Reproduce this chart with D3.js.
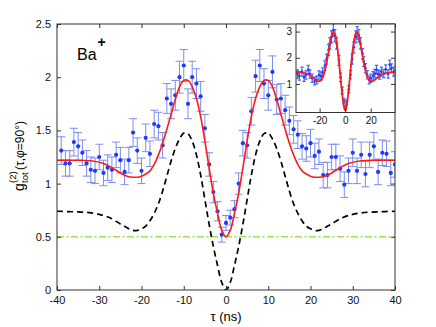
<!DOCTYPE html>
<html>
<head>
<meta charset="utf-8">
<script src="https://cdn.jsdelivr.net/npm/d3@7"></script>
<style>
  body { margin: 0; background: #fff; }
  svg { display: block; font-family: "Liberation Sans", Arial, sans-serif; }
</style>
</head>
<body>
<script>
"use strict";

var width = 436;
var height = 327;

// main data (tau in ns, g2 values, error bars)
var mainTau = [-39,-38,-37,-36,-35,-34,-33,-32,-31,-30,-29,-28,-27,-26,-25,-24,-23,-22,-21,-20,
  -19,-18,-17,-16,-15,-14,-13,-12,-11,-10,-9,-8,-7,-6,-5,-4,-3,-2,-1,0,
  1,2,3,4,5,6,7,8,9,10,11,12,13,14,15,16,17,18,19,20,
  21,22,23,24,25,26,27,28,29,30,31,32,33,34,35,36,37,38,39,40];
var mainG = [1.31,1.19,1.19,1.39,1.35,1.29,1.19,1.13,1.12,1.25,1.10,1.15,1.13,1.27,1.22,1.11,1.22,1.48,1.31,1.12,
  1.43,1.28,1.56,1.54,1.36,1.80,1.75,1.83,2.00,2.11,1.75,2.00,1.94,1.82,1.52,1.18,0.92,0.74,0.52,0.63,
  0.68,0.76,1.00,1.38,1.36,1.68,2.01,2.11,1.94,1.83,2.05,1.79,1.80,1.69,1.59,1.51,1.46,1.35,1.33,1.38,
  1.26,1.30,1.08,1.08,1.25,1.25,1.14,0.99,1.12,1.29,1.12,1.27,1.09,1.27,1.35,1.11,1.29,1.28,1.10,1.18];
var mainErr = [0.13,0.12,0.12,0.13,0.13,0.12,0.12,0.12,0.12,0.12,0.12,0.12,0.12,0.12,0.12,0.12,0.12,0.13,0.12,0.12,
  0.13,0.12,0.13,0.13,0.12,0.14,0.14,0.14,0.15,0.15,0.14,0.15,0.14,0.14,0.13,0.11,0.10,0.09,0.07,0.07,
  0.07,0.08,0.10,0.12,0.12,0.13,0.15,0.15,0.14,0.14,0.15,0.14,0.14,0.14,0.13,0.13,0.13,0.12,0.12,0.13,
  0.12,0.12,0.12,0.12,0.12,0.12,0.12,0.12,0.12,0.13,0.12,0.12,0.12,0.12,0.13,0.12,0.12,0.12,0.12,0.12];

// fitted curves, main panel
var fitTau = [-40,-36,-32,-29,-27,-25,-24,-23,-22,-21,-20,-19,-18,-17,-16,-15,-14,-13,-12,-11,-10,-9,-8,-7,-6,-5,-4,-3,-2,-1,0,
  1,2,3,4,5,6,7,8,9,10,11,12,13,14,15,16,17,18,19,20,21,22,23,24,25,27,29,32,36,40];
var fitRed = [1.22,1.22,1.215,1.19,1.15,1.10,1.08,1.065,1.06,1.06,1.07,1.09,1.12,1.18,1.27,1.38,1.51,1.65,1.79,1.91,1.97,1.97,1.91,1.80,1.63,1.40,1.15,0.91,0.72,0.56,0.50,
  0.56,0.72,0.91,1.15,1.40,1.63,1.80,1.91,1.97,1.97,1.91,1.79,1.65,1.51,1.38,1.27,1.18,1.12,1.09,1.07,1.06,1.06,1.065,1.08,1.10,1.15,1.19,1.215,1.22,1.22];
var fitBlack = [0.74,0.735,0.725,0.70,0.67,0.62,0.60,0.575,0.56,0.56,0.575,0.60,0.65,0.72,0.81,0.93,1.07,1.21,1.33,1.42,1.475,1.47,1.40,1.27,1.08,0.85,0.62,0.41,0.23,0.07,0.0,
  0.07,0.23,0.41,0.62,0.85,1.08,1.27,1.40,1.47,1.475,1.42,1.33,1.21,1.07,0.93,0.81,0.72,0.65,0.60,0.575,0.56,0.56,0.575,0.60,0.62,0.67,0.70,0.725,0.735,0.74];
var refLevel = 0.5;

// inset data
var insetTau = [-37.4,-35.9,-33.8,-32.2,-30.7,-28.9,-27.6,-25.8,-23.9,-22.3,-20.5,-19.0,-17.7,-15.9,-14.6,-13.0,-12.0,-10.7,-9.3,-8.0,
  -6.7,-4.9,-3.6,-2.3,-1.0,0.4,1.1,2.9,4.2,5.5,6.8,8.4,9.4,10.7,12.0,13.6,14.6,15.9,17.2,18.8,
  20.1,21.9,23.2,24.5,25.8,27.1,28.4,30.2,31.8,33.6,34.9,36.2,38.0];
var insetG = [1.38,1.31,1.47,1.26,1.34,1.54,1.38,1.22,1.11,1.15,1.34,1.30,1.45,1.70,1.95,2.30,2.55,2.80,3.05,2.85,
  2.55,1.90,1.25,0.75,0.35,0.10,0.30,0.80,1.35,1.95,2.40,2.80,2.95,2.85,2.55,2.15,1.85,1.60,1.35,1.15,
  1.22,1.31,1.40,1.54,1.38,1.34,1.47,1.40,1.56,1.38,1.73,1.60,1.47];
var insetErr = [0.16,0.16,0.17,0.16,0.16,0.17,0.16,0.16,0.15,0.15,0.16,0.16,0.17,0.18,0.19,0.21,0.22,0.23,0.24,0.23,
  0.22,0.19,0.16,0.13,0.10,0.07,0.09,0.13,0.16,0.19,0.21,0.23,0.24,0.23,0.22,0.20,0.19,0.18,0.16,0.15,
  0.16,0.16,0.16,0.17,0.16,0.16,0.17,0.16,0.17,0.16,0.18,0.17,0.17];
var insetFitTau = [-39,-35,-31,-28,-26,-24,-23,-22,-21,-20,-19,-18,-17,-16,-15,-14,-13,-12,-11,-10,-9,-8,-7,-6,-5,-4,-3,-2,-1,0,
  1,2,3,4,5,6,7,8,9,10,11,12,13,14,15,16,17,18,19,20,21,22,23,24,26,28,31,35,39];
var insetFitRed = [1.45,1.44,1.40,1.34,1.27,1.19,1.15,1.12,1.10,1.11,1.14,1.21,1.32,1.48,1.70,1.95,2.22,2.50,2.75,2.92,2.97,2.90,2.68,2.35,1.92,1.42,0.92,0.47,0.13,0.0,
  0.13,0.47,0.92,1.42,1.92,2.35,2.68,2.90,2.97,2.92,2.75,2.50,2.22,1.95,1.70,1.48,1.32,1.21,1.14,1.11,1.10,1.12,1.15,1.19,1.27,1.34,1.40,1.44,1.45];

// tick labels
var mainXTicks = [-40,-30,-20,-10,0,10,20,30,40];
var mainYTicks = [0,0.5,1,1.5,2,2.5];
var insetXTicks = [-20,0,20];
var insetYTicks = [1,2,3];

var svg = d3.select("body").append("svg").attr("width", width).attr("height", height);

function boxAxes(g, xs, ys, xt, yt, fontSize, padX, padY) {
  var r = xs.range(), h = ys.range();
  var fmt = function (d) { return String(d); };
  g.append("g").attr("transform", "translate(0," + h[0] + ")")
    .call(d3.axisBottom(xs).tickValues(xt).tickSizeInner(-4).tickSizeOuter(0).tickPadding(padX).tickFormat(fmt));
  g.append("g").attr("transform", "translate(0," + h[1] + ")")
    .call(d3.axisTop(xs).tickValues(xt).tickSizeInner(-4).tickSizeOuter(0).tickFormat(""));
  g.append("g").attr("transform", "translate(" + r[0] + ",0)")
    .call(d3.axisLeft(ys).tickValues(yt).tickSizeInner(-4).tickSizeOuter(0).tickPadding(padY).tickFormat(fmt));
  g.append("g").attr("transform", "translate(" + r[1] + ",0)")
    .call(d3.axisRight(ys).tickValues(yt).tickSizeInner(-4).tickSizeOuter(0).tickFormat(""));
  g.selectAll(".domain").remove();
  g.selectAll(".tick line").attr("stroke", "#333");
  g.selectAll(".tick text").attr("fill", "#111").style("font-size", fontSize + "px")
    .style("font-family", "'Liberation Sans', Arial, sans-serif");
  g.append("rect").attr("x", r[0]).attr("y", h[1]).attr("width", r[1] - r[0]).attr("height", h[0] - h[1])
    .attr("fill", "none").attr("stroke", "#333").attr("stroke-width", 1);
}

function drawErrorBars(g, xs, ys, tau, vals, errs, cap, r, color, sw) {
  var pts = tau.map(function (t, i) { return { t: t, v: vals[i], e: errs[i] }; });
  var bars = g.append("g").attr("stroke", color).attr("stroke-width", sw);
  bars.selectAll("line.v").data(pts).enter().append("line")
    .attr("x1", function (d) { return xs(d.t); }).attr("x2", function (d) { return xs(d.t); })
    .attr("y1", function (d) { return ys(d.v - d.e); }).attr("y2", function (d) { return ys(d.v + d.e); });
  [-1, 1].forEach(function (s) {
    bars.selectAll("line.c" + s).data(pts).enter().append("line")
      .attr("x1", function (d) { return xs(d.t) - cap; }).attr("x2", function (d) { return xs(d.t) + cap; })
      .attr("y1", function (d) { return ys(d.v + s * d.e); }).attr("y2", function (d) { return ys(d.v + s * d.e); });
  });
  g.append("g").selectAll("circle").data(pts).enter().append("circle")
    .attr("cx", function (d) { return xs(d.t); }).attr("cy", function (d) { return ys(d.v); })
    .attr("r", r).attr("fill", "#1e3cf5");
}

// ---- main panel ----
var x = d3.scaleLinear().domain([-40, 40]).range([57, 395]);
var y = d3.scaleLinear().domain([0, 2.5]).range([290, 24]);

svg.append("clipPath").attr("id", "mainClip").append("rect")
  .attr("x", 57).attr("y", 24).attr("width", 338).attr("height", 266);

var plot = svg.append("g").attr("clip-path", "url(#mainClip)");

plot.append("line").attr("x1", x(-40)).attr("x2", x(40)).attr("y1", y(refLevel)).attr("y2", y(refLevel))
  .attr("stroke", "#9be64f").attr("stroke-width", 1.5).attr("stroke-dasharray", "7,2.5,2,2.5");

var line = d3.line().x(function (d) { return x(d[0]); }).y(function (d) { return y(d[1]); }).curve(d3.curveCatmullRom.alpha(0.5));

plot.append("path").datum(fitTau.map(function (t, i) { return [t, fitBlack[i]]; }))
  .attr("d", line).attr("fill", "none").attr("stroke", "#000").attr("stroke-width", 1.7).attr("stroke-dasharray", "6,4");

drawErrorBars(plot, x, y, mainTau, mainG, mainErr, 4, 2.1, "#7d8cf2", 1);

plot.append("path").datum(fitTau.map(function (t, i) { return [t, fitRed[i]]; }))
  .attr("d", line).attr("fill", "none").attr("stroke", "#ff1a1a").attr("stroke-width", 1.6);

boxAxes(svg.append("g"), x, y, mainXTicks, mainYTicks, 11, 6, 6);

// Ba+ label
var ba = svg.append("text").attr("x", 77).attr("y", 60).attr("fill", "#000").style("font-size", "16px");
ba.append("tspan").text("Ba");
ba.append("tspan").attr("dy", -13).attr("dx", 1).style("font-size", "14px").style("font-weight", "bold").text("+");

// x label
svg.append("text").attr("x", 226).attr("y", 321).attr("text-anchor", "middle").style("font-size", "13px").text("τ (ns)");

// y label (rotated)
var yl = svg.append("g").attr("transform", "translate(24,157) rotate(-90)").attr("fill", "#000");
yl.append("text").attr("x", -34).attr("y", 0).style("font-size", "14px").text("g");
yl.append("text").attr("x", -26).attr("y", -8).style("font-size", "9.5px").text("(2)");
yl.append("text").attr("x", -26).attr("y", 4).style("font-size", "9.5px").text("tot");
yl.append("text").attr("x", -13).attr("y", 0).style("font-size", "12px").text("(τ,φ=90°)");

// ---- inset ----
var ix = d3.scaleLinear().domain([-38.5, 39]).range([296, 395]);
var iy = d3.scaleLinear().domain([-0.09, 3.29]).range([112.5, 24]);

svg.append("rect").attr("x", 296).attr("y", 24).attr("width", 99).attr("height", 88.5).attr("fill", "#fff");
svg.append("clipPath").attr("id", "insetClip").append("rect")
  .attr("x", 296).attr("y", 24).attr("width", 99).attr("height", 88.5);
var inset = svg.append("g").attr("clip-path", "url(#insetClip)");

drawErrorBars(inset, ix, iy, insetTau, insetG, insetErr, 1.6, 1.3, "#4a64f5", 1.2);

var iline = d3.line().x(function (d) { return ix(d[0]); }).y(function (d) { return iy(d[1]); }).curve(d3.curveCatmullRom.alpha(0.5));
inset.append("path").datum(insetFitTau.map(function (t, i) { return [t, insetFitRed[i]]; }))
  .attr("d", iline).attr("fill", "none").attr("stroke", "#ff1a1a").attr("stroke-width", 1.8);

boxAxes(svg.append("g"), ix, iy, insetXTicks, insetYTicks, 10, 4, 4);
</script>
</body>
</html>
